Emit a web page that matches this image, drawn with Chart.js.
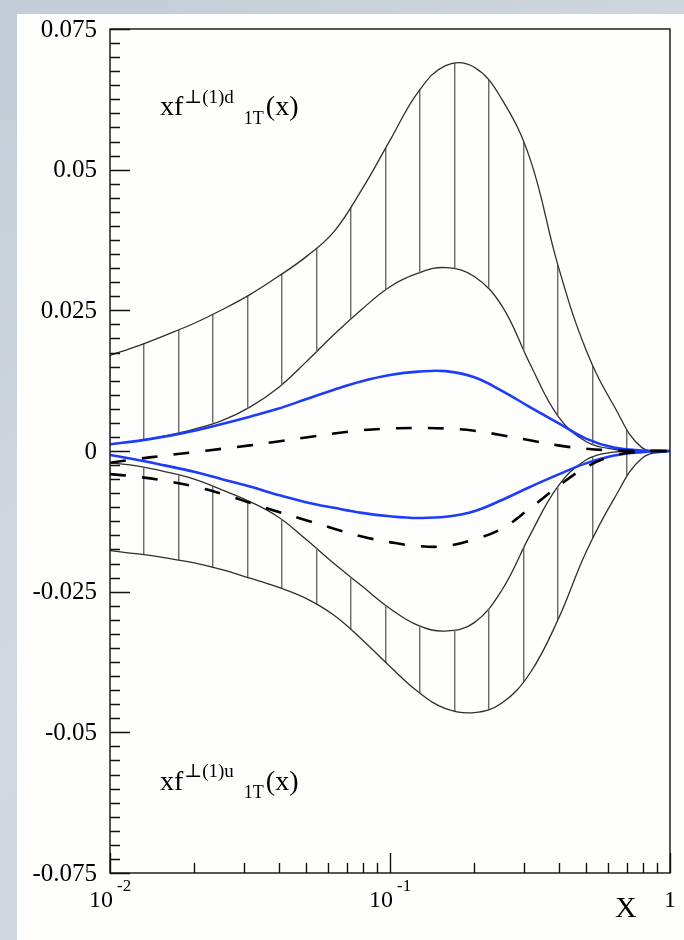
<!DOCTYPE html>
<html>
<head>
<meta charset="utf-8">
<script src="https://cdn.jsdelivr.net/npm/chart.js@4.4.0/dist/chart.umd.min.js"></script>
<style>
  html, body { margin: 0; padding: 0; background: #cbd2db; }
</style>
</head>
<body>
<canvas id="myChart" width="684" height="940"></canvas>
<script>
// x grid shared by all curves, ten points per decade
const xValues = [0.01, 0.0126, 0.0158, 0.02, 0.0251, 0.0316, 0.0398, 0.0501, 0.0631, 0.0794,
  0.1, 0.126, 0.158, 0.2, 0.251, 0.316, 0.398, 0.501, 0.631, 0.794, 1.0];

// d quark: band edges (hatched), fit and model
const dBandHigh = [0.0170, 0.0187, 0.0206, 0.0227, 0.0251, 0.0278, 0.0310, 0.0345, 0.0390, 0.0465,
  0.0552, 0.0638, 0.0685, 0.0682, 0.0625, 0.0520, 0.0330, 0.0180, 0.0080, 0.0006, 0.0];
const dBandLow = [0.0012, 0.0018, 0.0027, 0.0039, 0.0054, 0.0078, 0.0112, 0.0158, 0.0207, 0.0252,
  0.0292, 0.0316, 0.0326, 0.0310, 0.0258, 0.0155, 0.0062, 0.0017, 0.0003, 0.0, 0.0];
const dFit = [0.0012, 0.0018, 0.0026, 0.0036, 0.0048, 0.0061, 0.0075, 0.0092, 0.0109, 0.0124,
  0.0135, 0.0141, 0.0142, 0.0131, 0.0107, 0.0078, 0.0050, 0.0022, 0.0006, 0.0001, 0.0];
const dModel = [-0.0021, -0.0014, -0.0008, -0.0002, 0.0004, 0.0010, 0.0017, 0.0024, 0.0031, 0.0037,
  0.0040, 0.0041, 0.0040, 0.0036, 0.0028, 0.0019, 0.0010, 0.0004, 0.0001, 0.0, 0.0];

// u quark: band edges (hatched), fit and model
const uBandHigh = [-0.0021, -0.0027, -0.0037, -0.0050, -0.0069, -0.0090, -0.0117, -0.0157, -0.0200, -0.0240,
  -0.0280, -0.0310, -0.0320, -0.0305, -0.0247, -0.0150, -0.0063, -0.0016, -0.0002, 0.0, 0.0];
const uBandLow = [-0.0177, -0.0183, -0.0190, -0.0199, -0.0211, -0.0226, -0.0242, -0.0262, -0.0292, -0.0335,
  -0.0383, -0.0428, -0.0458, -0.0465, -0.0448, -0.0395, -0.0300, -0.0180, -0.0085, -0.0013, 0.0];
const uFit = [-0.0007, -0.0016, -0.0026, -0.0037, -0.0050, -0.0063, -0.0078, -0.0091, -0.0101, -0.0110,
  -0.0116, -0.0119, -0.0117, -0.0107, -0.0087, -0.0064, -0.0042, -0.0022, -0.0008, -0.0002, 0.0];
const uModel = [-0.0041, -0.0046, -0.0053, -0.0063, -0.0076, -0.0092, -0.0108, -0.0123, -0.0138, -0.0152,
  -0.0162, -0.0169, -0.0169, -0.0157, -0.0138, -0.0102, -0.0063, -0.0029, -0.0008, -0.0001, 0.0];

// axis ticks
const yTickValues = [-0.075, -0.05, -0.025, 0, 0.025, 0.05, 0.075];
const yTickLabels = ['-0.075', '-0.05', '-0.025', '0', '0.025', '0.05', '0.075'];
const xDecades = [0.01, 0.1, 1];
const xDecadeBase = ['10', '10', '1'];
const xDecadeExp = ['-2', '-1', ''];

const serif = '"Liberation Serif", "DejaVu Serif", serif';

function points(ys) {
  return xValues.map((x, i) => ({ x: x, y: ys[i] }));
}

// vertical hatch lines, one every ~34.5 px
function hatch(ctx) {
  const tile = document.createElement('canvas');
  tile.width = 69;
  tile.height = 4;
  const t = tile.getContext('2d');
  t.fillStyle = '#6c6c6c';
  t.fillRect(5, 0, 1, 4);
  t.fillRect(40, 0, 1, 4);
  t.fillStyle = 'rgba(110,110,110,0.45)';
  t.fillRect(6, 0, 1, 4);
  t.fillRect(41, 0, 1, 4);
  return ctx.createPattern(tile, 'repeat');
}

function drawRich(ctx, x, y, parts) {
  let cx = x;
  for (const p of parts) {
    ctx.font = p.size + 'px ' + serif;
    ctx.fillText(p.text, cx, y + (p.dy || 0));
    cx += ctx.measureText(p.text).width + (p.gap || 0);
  }
}

const framePlugin = {
  id: 'frame',
  beforeDraw(chart) {
    const ctx = chart.ctx;
    const g = ctx.createLinearGradient(0, 0, 684, 940);
    g.addColorStop(0, '#c3ccd7');
    g.addColorStop(0.5, '#d3d9e1');
    g.addColorStop(1, '#c6ced8');
    ctx.save();
    ctx.fillStyle = g;
    ctx.fillRect(0, 0, chart.width, chart.height);
    ctx.fillStyle = '#fefefc';
    ctx.fillRect(17, 14, chart.width - 17, chart.height - 14);
    ctx.restore();
  },
  afterDraw(chart) {
    const ctx = chart.ctx;
    const a = chart.chartArea;
    const xs = chart.scales.x;
    const ys = chart.scales.y;
    ctx.save();
    ctx.strokeStyle = '#111';
    ctx.lineWidth = 1.4;
    ctx.strokeRect(a.left, a.top, a.right - a.left, a.bottom - a.top);

    // y ticks, inside the frame
    ctx.beginPath();
    for (let i = -30; i <= 30; i++) {
      const y = Math.round(ys.getPixelForValue(i * 0.0025)) + 0.5;
      const len = i % 10 === 0 ? 20 : 10;
      ctx.moveTo(a.left, y);
      ctx.lineTo(a.left + len, y);
    }
    // x ticks, log decades with 2..9 subdivisions
    for (let d = 0; d < xDecades.length; d++) {
      for (let m = 1; m <= 9; m++) {
        const v = xDecades[d] * m;
        if (v > 1) break;
        const x = Math.round(xs.getPixelForValue(v)) + 0.5;
        const len = m === 1 ? 20 : 10;
        ctx.moveTo(x, a.bottom);
        ctx.lineTo(x, a.bottom - len);
      }
    }
    ctx.stroke();

    ctx.fillStyle = '#000';
    ctx.font = '25px ' + serif;
    ctx.textAlign = 'right';
    ctx.textBaseline = 'middle';
    yTickValues.forEach((v, i) => {
      ctx.fillText(yTickLabels[i], 97, ys.getPixelForValue(v) + 1);
    });

    ctx.textBaseline = 'alphabetic';
    xDecades.forEach((v, i) => {
      const x = xs.getPixelForValue(v);
      ctx.font = '24px ' + serif;
      if (xDecadeExp[i]) {
        ctx.textAlign = 'right';
        ctx.fillText(xDecadeBase[i], x + 3, 907);
        ctx.textAlign = 'left';
        ctx.font = '17px ' + serif;
        ctx.fillText(xDecadeExp[i], x + 7, 891);
      } else {
        ctx.textAlign = 'center';
        ctx.fillText(xDecadeBase[i], x, 907);
      }
    });
    ctx.textAlign = 'left';
    ctx.font = '30px ' + serif;
    ctx.fillText('X', 615, 917);

    drawRich(ctx, 160, 115, [
      { text: 'xf', size: 28, gap: 1 },
      { text: '\u22a5(1)d', size: 19, dy: -12, gap: 10 },
      { text: '1T', size: 18, dy: 9, gap: 2 },
      { text: '(x)', size: 28 }
    ]);
    drawRich(ctx, 160, 790, [
      { text: 'xf', size: 28, gap: 1 },
      { text: '\u22a5(1)u', size: 19, dy: -13, gap: 10 },
      { text: '1T', size: 18, dy: 8, gap: 2 },
      { text: '(x)', size: 28 }
    ]);
    ctx.restore();
  }
};

const ctx = document.getElementById('myChart').getContext('2d');
const pattern = hatch(ctx);

const thin = { borderColor: '#2e2e2e', borderWidth: 1.3, pointRadius: 0, tension: 0.4, order: 2 };
const blue = { borderColor: '#1c3cfa', borderWidth: 2.6, pointRadius: 0, tension: 0.4, fill: false, order: 1 };
const dash = { borderColor: '#000', borderWidth: 2.6, borderDash: [16, 16], pointRadius: 0, tension: 0.4, fill: false, order: 0 };

const myChart = new Chart(ctx, {
  type: 'line',
  data: {
    datasets: [
      Object.assign({ label: 'd high', data: points(dBandHigh), fill: 1, backgroundColor: pattern }, thin),
      Object.assign({ label: 'd low', data: points(dBandLow), fill: false }, thin),
      Object.assign({ label: 'u low', data: points(uBandLow), fill: 3, backgroundColor: pattern }, thin),
      Object.assign({ label: 'u high', data: points(uBandHigh), fill: false }, thin),
      Object.assign({ label: 'd fit', data: points(dFit) }, blue),
      Object.assign({ label: 'u fit', data: points(uFit) }, blue),
      Object.assign({ label: 'd model', data: points(dModel) }, dash),
      Object.assign({ label: 'u model', data: points(uModel) }, dash)
    ]
  },
  options: {
    responsive: false,
    devicePixelRatio: 1,
    animation: false,
    layout: { padding: { left: 110, right: 14, top: 29, bottom: 67 } },
    plugins: { legend: { display: false }, tooltip: { enabled: false } },
    scales: {
      x: { type: 'logarithmic', min: 0.01, max: 1, display: false },
      y: { type: 'linear', min: -0.075, max: 0.075, display: false }
    }
  },
  plugins: [framePlugin]
});
</script>
</body>
</html>
